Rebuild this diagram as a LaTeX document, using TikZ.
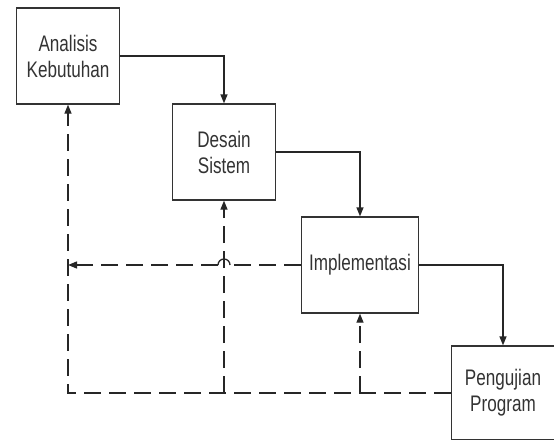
\documentclass[tikz,border=0pt]{standalone}
\usepackage{fontspec}
\setmainfont{Liberation Sans}[FakeStretch=0.76]
\usetikzlibrary{arrows.meta}

\tikzset{
  box/.style={draw=black!80,line width=1.3pt,minimum width=103pt,minimum height=96pt,
    align=center,text=black!80,font=\fontsize{22.5}{26}\selectfont,inner sep=0pt},
  flow/.style={draw=black!85,line width=1.3pt,-{Triangle[length=9pt,width=7pt]}},
  back/.style={flow,dash pattern=on 17pt off 8pt},
  hop/.style={draw=black!85,line width=1.3pt}
}

\begin{document}
\begin{tikzpicture}[x=1pt,y=-1pt]

    \useasboundingbox (0,0) rectangle (554,439);

    \node[box] (anl) at (68,56) {Analisis\\Kebutuhan};
    \node[box] (dsn) at (224,152) {Desain\\Sistem};
    \node[box,minimum width=117pt] (imp) at (360,265) {Implementasi};
    \node[box,minimum height=94pt] (uji) at (503,393) {Pengujian\\Program};

    % alur maju
    \draw[flow] (anl.east) -| (dsn.north);
    \draw[flow] (dsn.east) -| (imp.north);
    \draw[flow] (imp.east) -| (uji.north);

    % alur balik
    \draw[back] (uji.west) -| (anl.south);
    \draw[back] (dsn.south |- uji.west) -- (dsn.south);
    \draw[back] (imp.south |- uji.west) -- (imp.south);

    \coordinate (cross) at (dsn.south |- imp.west);
    \draw[back,-] (imp.west) -- ([xshift=6pt]cross);
    \draw[hop] ([xshift=6pt]cross) arc[start angle=0,end angle=180,radius=6pt];
    \draw[back] ([xshift=-6pt]cross) -- (anl.south |- imp.west);

\end{tikzpicture}
\end{document}
